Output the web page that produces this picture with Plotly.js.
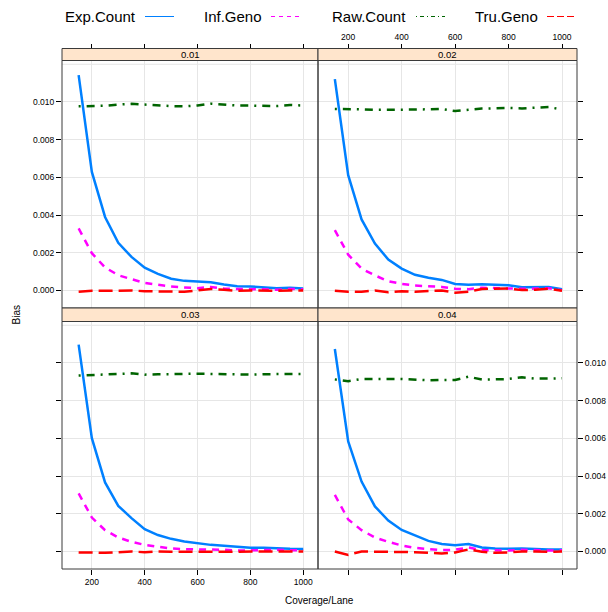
<!DOCTYPE html>
<html><head><meta charset="utf-8">
<script src="https://cdn.plot.ly/plotly-3.0.1.min.js"></script>
<style>html,body{margin:0;padding:0;background:#fff}#plot{width:608px;height:612px}</style>
</head><body><div id="plot"></div>
<script>
// ---- data ----
const coverage = [150,200,250,300,350,400,450,500,550,600,650,700,750,800,850,900,950,1000];
const seriesNames = ['Exp.Count','Inf.Geno','Raw.Count','Tru.Geno'];
const panelLabels = ['0.01','0.02','0.03','0.04'];
const xTickVals = [200,400,600,800,1000];
const yTickVals = [0,0.002,0.004,0.006,0.008,0.010];
const yTickText = ['0.000','0.002','0.004','0.006','0.008','0.010'];

const exp001 = [0.01142,0.00629,0.00390,0.00253,0.00178,0.00121,0.00088,0.00062,0.00051,0.00046,0.00044,0.00032,0.00023,0.00021,0.00016,0.00012,0.00014,0.00010];
const inf001 = [0.00329,0.00198,0.00122,0.00081,0.00060,0.00040,0.00030,0.00021,0.00016,0.00012,0.00019,0.00010,0.00008,0.00008,0.00006,0.00004,0.00008,0.00006];
const raw001 = [0.00977,0.00978,0.00980,0.00986,0.00990,0.00986,0.00981,0.00978,0.00977,0.00981,0.00991,0.00986,0.00981,0.00981,0.00980,0.00978,0.00984,0.00981];
const tru001 = [-0.00007,-0.00002,-0.00002,0,0,-0.00004,-0.00004,-0.00007,-0.00007,0,0.00008,0.00004,-0.00002,0,-0.00002,-0.00002,0,0];

const exp002 = [0.01121,0.00612,0.00377,0.00249,0.00164,0.00116,0.00083,0.00067,0.00056,0.00034,0.00030,0.00033,0.00030,0.00028,0.00017,0.00019,0.00019,0.00007];
const inf002 = [0.00320,0.00190,0.00116,0.00080,0.00049,0.00035,0.00026,0.00023,0.00019,0.00009,0.00007,0.00014,0.00012,0.00012,0.00009,0.00010,0.00012,0.00001];
const raw002 = [0.00963,0.00963,0.00961,0.00958,0.00958,0.00956,0.00960,0.00961,0.00963,0.00952,0.00958,0.00965,0.00966,0.00968,0.00966,0.00968,0.00973,0.00960];
const tru002 = [-0.00002,-0.00007,-0.00007,0,-0.00010,-0.00004,-0.00007,-0.00004,0,-0.00012,-0.00007,0.00008,0.00008,0.00010,0.00002,0.00004,0.00010,-0.00002];

const exp003 = [0.01097,0.00601,0.00366,0.00242,0.00177,0.00118,0.00087,0.00067,0.00053,0.00042,0.00035,0.00030,0.00025,0.00020,0.00020,0.00016,0.00014,0.00013];
const inf003 = [0.00308,0.00180,0.00113,0.00074,0.00051,0.00035,0.00025,0.00016,0.00012,0.00012,0.00009,0.00009,0.00005,0.00007,0.00010,0.00009,0.00007,0.00007];
const raw003 = [0.00933,0.00935,0.00936,0.00942,0.00945,0.00938,0.00940,0.00942,0.00942,0.00943,0.00942,0.00940,0.00936,0.00938,0.00940,0.00942,0.00942,0.00942];
const tru003 = [-0.00005,-0.00007,-0.00007,-0.00004,0,-0.00004,0,-0.00002,-0.00002,0,-0.00004,0,-0.00004,-0.00002,0,-0.00002,0,0];

const exp004 = [0.01074,0.00584,0.00371,0.00239,0.00164,0.00114,0.00085,0.00056,0.00040,0.00033,0.00040,0.00021,0.00016,0.00014,0.00016,0.00012,0.00010,0.00010];
const inf004 = [0.00300,0.00170,0.00113,0.00074,0.00051,0.00032,0.00019,0.00012,0.00007,0.00009,0.00021,0.00007,0.00005,0.00005,0.00009,0.00007,0.00005,0.00007];
const raw004 = [0.00913,0.00903,0.00915,0.00917,0.00915,0.00915,0.00912,0.00908,0.00910,0.00910,0.00927,0.00912,0.00913,0.00915,0.00924,0.00917,0.00917,0.00919];
const tru004 = [0,-0.00018,0,0,-0.00002,-0.00004,-0.00004,-0.00007,-0.00011,-0.00005,0.00011,-0.00002,-0.00007,-0.00005,0,0,-0.00002,0];

const panelSeries = [
  [exp001, inf001, raw001, tru001],
  [exp002, inf002, raw002, tru002],
  [exp003, inf003, raw003, tru003],
  [exp004, inf004, raw004, tru004]
];

// ---- style ----
const W = 608, H = 612;
const FONT = 'Liberation Sans, Arial, Helvetica, sans-serif';
const colors = ['#0080ff','#ff00ff','#006400','#ff0000'];
const dashes = ['solid','7px,6px','2px,6px,8px,6px','14px,6px'];
const legendDashes = ['solid','4px,4px','1px,3px,4px,3px','7px,3px'];
const px = v => v / W;
const py = v => 1 - v / H;

// panel geometry (pixels)
const colX = [[62,318],[318,577]];
const rowY = [[60.5,308],[321.5,569]];
const stripY = [[48.5,60.5],[308,321.5]];
const xRange = [87,1056];
const yRange = [-0.00093,0.0122];

const traces = [];
panelSeries.forEach((ser, p) => {
  const ax = p === 0 ? '' : String(p+1);
  ser.forEach((vals, s) => {
    traces.push({
      x: coverage, y: vals, type: 'scatter', mode: 'lines',
      xaxis: 'x'+ax, yaxis: 'y'+ax, name: seriesNames[s], showlegend: false,
      line: {color: colors[s], width: 2.5, dash: dashes[s]},
      hoverinfo: 'skip'
    });
  });
});

const layout = {
  width: W, height: H,
  margin: {l:0, r:0, t:0, b:0},
  paper_bgcolor: '#fff', plot_bgcolor: '#fff',
  showlegend: false,
  font: {family: FONT, size: 8.5, color: '#000'},
  shapes: [], annotations: []
};

const gridColor = '#e6e6e6';
for (let p = 0; p < 4; p++) {
  const r = Math.floor(p/2), c = p % 2;
  const ax = p === 0 ? '' : String(p+1);
  const xd = [px(colX[c][0]), px(colX[c][1])];
  const yd = [py(rowY[r][1]), py(rowY[r][0])];
  const xa = {
    domain: xd, range: xRange, showgrid: true, gridcolor: gridColor, gridwidth: 1,
    zeroline: false, showline: false, tickvals: xTickVals, ticks: 'outside',
    ticklen: 5, tickwidth: 1, tickcolor: '#000', tickfont: {size: 8.5, family: FONT, color: '#000'}
  };
  const ya = {
    domain: yd, range: yRange, showgrid: true, gridcolor: gridColor, gridwidth: 1,
    zeroline: false, showline: false, tickvals: yTickVals, ticktext: yTickText, ticks: 'outside',
    ticklen: 5, tickwidth: 1, tickcolor: '#000', tickfont: {size: 8.5, family: FONT, color: '#000'}
  };
  if (r === 0) {
    xa.side = 'top'; xa.anchor = 'free'; xa.position = py(stripY[0][0]);
    xa.showticklabels = (c === 1);
  } else {
    xa.side = 'bottom'; xa.anchor = 'y'+ax; xa.showticklabels = (c === 0);
  }
  ya.anchor = 'x'+ax;
  if (c === 0) { ya.side = 'left'; ya.showticklabels = (r === 0); }
  else { ya.side = 'right'; ya.showticklabels = (r === 1); }
  layout['xaxis'+ax] = xa;
  layout['yaxis'+ax] = ya;

  // extra light grid line at 0.012
  layout.shapes.push({type:'line', layer:'below', xref:'x'+ax+' domain', yref:'y'+ax,
    x0:0, x1:1, y0:0.012, y1:0.012, line:{color:gridColor, width:1}});
  // panel box
  layout.shapes.push({type:'rect', layer:'above', xref:'paper', yref:'paper',
    x0:xd[0], x1:xd[1], y0:yd[0], y1:yd[1], line:{color:'#3a3a3a', width:1}, fillcolor:'rgba(0,0,0,0)'});
  // strip
  layout.shapes.push({type:'rect', layer:'above', xref:'paper', yref:'paper',
    x0:xd[0], x1:xd[1], y0:py(stripY[r][1]), y1:py(stripY[r][0]),
    line:{color:'#3a3a3a', width:1}, fillcolor:'#ffe5cc'});
  layout.annotations.push({xref:'paper', yref:'paper', x:(xd[0]+xd[1])/2,
    y:(py(stripY[r][0])+py(stripY[r][1]))/2, text: panelLabels[p], showarrow:false,
    xanchor:'center', yanchor:'middle', font:{size:9.5, family:FONT, color:'#000'}});
}

// legend (text then line sample)
const legendTextX = [63, 202, 330, 473];
const legendLineX = [[145,174],[271,300],[416,445],[547,577]];
const legendY = 16.5;
seriesNames.forEach((n, i) => {
  layout.annotations.push({xref:'paper', yref:'paper', x:px(legendTextX[i]), y:py(legendY),
    text:n, showarrow:false, xanchor:'left', yanchor:'middle', font:{size:15, family:FONT, color:'#000'}});
  layout.shapes.push({type:'line', xref:'paper', yref:'paper', x0:px(legendLineX[i][0]), x1:px(legendLineX[i][1]),
    y0:py(legendY), y1:py(legendY), line:{color:colors[i], width:1, dash:legendDashes[i]}});
});

// axis titles
layout.annotations.push({xref:'paper', yref:'paper', x:px(319), y:py(600), text:'Coverage/Lane',
  showarrow:false, xanchor:'center', yanchor:'middle', font:{size:10, family:FONT, color:'#000'}});
layout.annotations.push({xref:'paper', yref:'paper', x:px(16.5), y:py(315), text:'Bias', textangle:-90,
  showarrow:false, xanchor:'center', yanchor:'middle', font:{size:10, family:FONT, color:'#000'}});

Plotly.newPlot('plot', traces, layout, {displayModeBar:false, staticPlot:true});
</script></body></html>
